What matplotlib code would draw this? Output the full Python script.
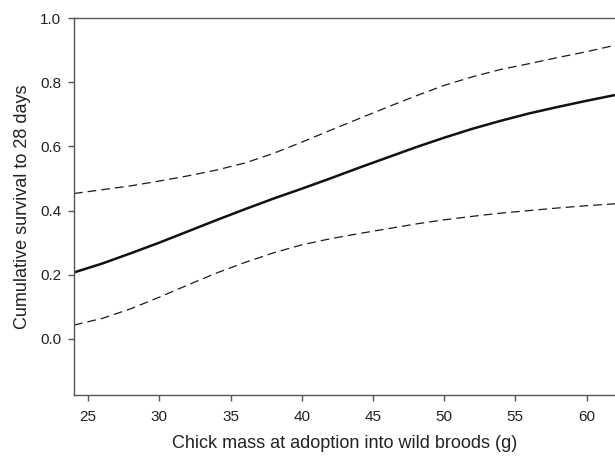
import matplotlib
matplotlib.use('Agg')
import matplotlib.pyplot as plt

plt.rcParams['font.family'] = ['Liberation Sans', 'DejaVu Sans']

# chick mass (g) and fitted survival with 95% limits
mass = [24, 26, 28, 30, 32, 34, 36, 38, 40, 42, 44, 46, 48, 50, 52, 54, 56, 58, 60, 62]
fit = [0.207, 0.235, 0.267, 0.300, 0.335, 0.370, 0.404, 0.437, 0.468, 0.500,
       0.533, 0.565, 0.597, 0.627, 0.655, 0.680, 0.703, 0.723, 0.742, 0.760]
upper = [0.453, 0.465, 0.477, 0.492, 0.508, 0.526, 0.548, 0.578, 0.613, 0.650,
         0.686, 0.722, 0.757, 0.790, 0.817, 0.840, 0.858, 0.877, 0.895, 0.915]
lower = [0.043, 0.064, 0.094, 0.130, 0.168, 0.205, 0.238, 0.268, 0.293, 0.312,
         0.328, 0.343, 0.358, 0.371, 0.382, 0.392, 0.400, 0.408, 0.415, 0.421]

xticks = [25, 30, 35, 40, 45, 50, 55, 60]
yticks = [0.0, 0.2, 0.4, 0.6, 0.8, 1.0]

fig = plt.figure(figsize=(6.15, 4.62), dpi=100)
ax = fig.add_axes([0.1203, 0.145, 0.8797, 0.816])

ax.plot(mass, fit, color='#111111', lw=1.8, solid_capstyle='butt')
ax.plot(mass, upper, color='#1a1a1a', lw=0.9, dashes=(7, 4))
ax.plot(mass, lower, color='#1a1a1a', lw=0.9, dashes=(7, 4))

ax.set_xlim(24, 62)
ax.set_ylim(-0.175, 1.0)
ax.set_xticks(xticks)
ax.set_yticks(yticks)
ax.set_yticklabels(['%.1f' % v for v in yticks])

spine_col = '#555555'
for side in ['left', 'top', 'bottom']:
    ax.spines[side].set_color(spine_col)
    ax.spines[side].set_linewidth(1.0)
ax.spines['right'].set_visible(False)

ax.tick_params(direction='out', length=4, width=1.0, color=spine_col,
               labelsize=11, labelcolor='#222222', pad=7)
ax.tick_params(axis='y', pad=5)

ax.set_xlabel('Chick mass at adoption into wild broods (g)', fontsize=13, color='#222222', labelpad=8)
ax.set_ylabel('Cumulative survival to 28 days', fontsize=13, color='#222222', labelpad=7)

fig.savefig('out.png', dpi=100)
